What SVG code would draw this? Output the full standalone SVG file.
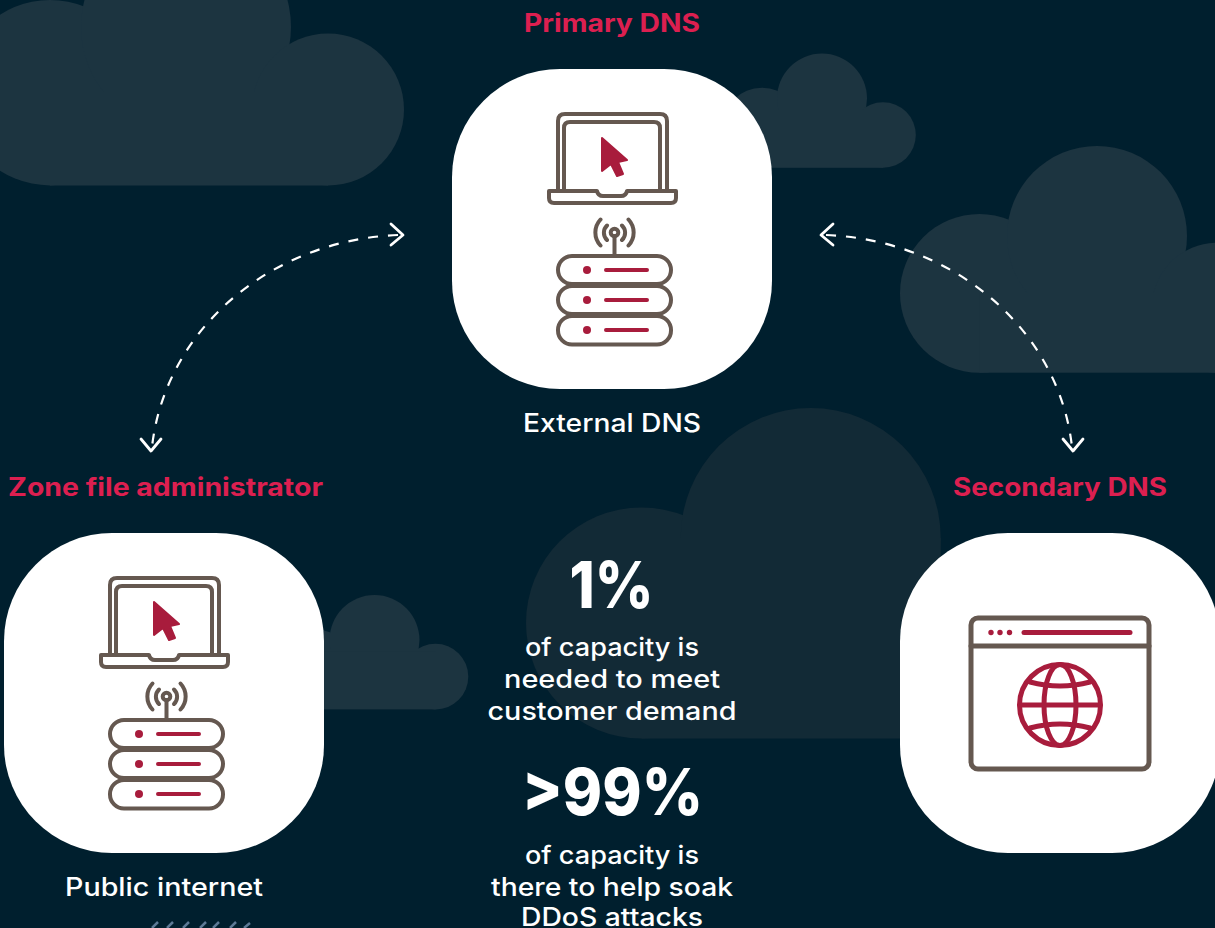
<svg xmlns="http://www.w3.org/2000/svg" width="1215" height="928" viewBox="0 0 1215 928">
<style>
.lbl{font-family:"Inter","Open Sans","Liberation Sans",sans-serif;font-size:25px;fill:#fff;text-anchor:middle;font-weight:500}
.ttl{font-family:"Inter","Open Sans","Liberation Sans",sans-serif;font-size:25px;fill:#dc1f50;text-anchor:middle;font-weight:700}
.big{font-family:"Inter","Open Sans","Liberation Sans",sans-serif;font-size:65px;fill:#fff;text-anchor:middle;font-weight:800}
.c1{fill:#1c3440}.c2{fill:#122a36}
.br{fill:none;stroke:#655850;stroke-width:4;stroke-linecap:round;stroke-linejoin:round}
.rd{fill:none;stroke:#a81c3c;stroke-width:4;stroke-linecap:round;stroke-linejoin:round}
.rdf{fill:#a81c3c}
.card{fill:#fff}
.dash{fill:none;stroke:#fff;stroke-width:2.2;stroke-dasharray:10 10}
.head{fill:none;stroke:#fff;stroke-width:2.8;stroke-linecap:round;stroke-linejoin:round}
</style>
<defs>
<g id="stack">
<path class="br" d="M558,191V121q0,-7 7,-7H660q7,0 7,7V191"/>
<path class="br" d="M564,191V128q0,-6 6,-6H654q6,0 6,6V191"/>
<path class="br" d="M549,191H597q1,5 6,5H621q5,0 6,-5H676V198q0,5 -5,5H554q-5,0 -5,-5Z"/>
<path class="rdf" stroke="#a81c3c" stroke-width="2" stroke-linejoin="round" d="M602,138L627,160L618,162L623,174L617,176L611,164L602,171Z"/>
<circle class="br" cx="614.5" cy="232.5" r="3.8"/>
<path class="br" d="M614.5,236V255M607,225.500a10,10 0 0 0 0,14.500M622,225.500a10,10 0 0 1 0,14.500M600.500,219.500a19,19 0 0 0 0,26M628.500,219.500a19,19 0 0 1 0,26"/>
<rect class="br" x="558" y="256" width="113" height="28" rx="14"/>
<rect class="br" x="558" y="286" width="113" height="28" rx="14"/>
<rect class="br" x="558" y="316" width="113" height="28.500" rx="14"/>
<circle class="rdf" cx="587" cy="270" r="4"/><circle class="rdf" cx="587" cy="300" r="4"/><circle class="rdf" cx="587" cy="330" r="4"/>
<path class="rd" d="M606,270H647M606,300H647M606,330H647"/>
</g>
<g id="smallcloud">
<circle cx="762" cy="127.700" r="40"/>
<circle cx="822" cy="98.500" r="45"/>
<circle cx="883" cy="135" r="32.800"/>
<rect x="762" y="110" width="121" height="57.800"/>
</g>
</defs>
<rect width="1215" height="928" fill="#001f2e"/>
<g id="clouds">
<g class="c1">
<circle cx="50" cy="92.700" r="92.700"/>
<circle cx="186" cy="27" r="105"/>
<circle cx="328" cy="109.500" r="76"/>
<rect x="50" y="92" width="278" height="93.500"/>
</g>
<use href="#smallcloud" class="c1"/>
<g class="c1">
<circle cx="979.400" cy="293.300" r="79.400"/>
<circle cx="1097" cy="236" r="90"/>
<circle cx="1217" cy="307.700" r="65"/>
<rect x="979.400" y="293" width="240" height="79.700"/>
</g>
<g class="c2">
<circle cx="641.500" cy="623" r="115.500"/>
<circle cx="810.700" cy="538" r="130"/>
<rect x="641.500" y="538" width="299.200" height="200.500"/>
</g>
<use href="#smallcloud" class="c1" x="-447.500" y="541.600"/>
<path d="M152,928l6,-6M167,928l6,-6M183,928l6,-6M200,928l6,-6M213,928l6,-6M230,928l6,-6M244,928l6,-5" stroke="#5d7a96" stroke-width="2.500" fill="none"/>
</g>
<g id="connectors">
<path class="dash" d="M398,235C270,240 165,330 152,447"/>
<path class="head" d="M391,224L403,235L391,245"/>
<path class="head" d="M141,439L151,451L161,439"/>
<path class="dash" d="M826,235C954,240 1059,330 1072,447"/>
<path class="head" d="M833,224L821,235L833,245"/>
<path class="head" d="M1063,439L1073,451L1083,439"/>
</g>
<g id="node-primary">
<rect class="card" x="452" y="69" width="320" height="320" rx="108"/>
<text class="ttl" x="612" y="32" textLength="176" lengthAdjust="spacingAndGlyphs">Primary DNS</text>
<use href="#stack"/>
<text class="lbl" x="612" y="432" textLength="178" lengthAdjust="spacingAndGlyphs">External DNS</text>
</g>
<g id="node-admin">
<rect class="card" x="4" y="533" width="320" height="320" rx="108"/>
<text class="ttl" x="165.500" y="496" textLength="315" lengthAdjust="spacingAndGlyphs">Zone file administrator</text>
<use href="#stack" x="-448" y="464"/>
<text class="lbl" x="164" y="896" textLength="198" lengthAdjust="spacingAndGlyphs">Public internet</text>
</g>
<g id="node-secondary">
<rect class="card" x="900" y="533" width="320" height="320" rx="108"/>
<text class="ttl" x="1060" y="496" textLength="214" lengthAdjust="spacingAndGlyphs">Secondary DNS</text>
<rect class="br" style="stroke-width:5" x="971" y="618" width="178" height="151" rx="7"/>
<path class="br" style="stroke-width:5" d="M971,646H1149"/>
<circle class="rdf" cx="991" cy="632.500" r="2.700"/><circle class="rdf" cx="1000" cy="632.500" r="2.700"/><circle class="rdf" cx="1009.500" cy="632.500" r="2.700"/>
<path class="rd" style="stroke-width:5" d="M1024,632.500H1130"/>
<g class="rd" style="stroke-width:5">
<circle cx="1060" cy="705" r="40.500"/>
<ellipse cx="1060" cy="705" rx="16" ry="40.500"/>
<path d="M1020,705H1100M1030,682Q1060,690 1090,682M1030,728Q1060,720 1090,728"/>
</g>
</g>
<g id="stats">
<text class="big" x="611.500" y="608" textLength="84" lengthAdjust="spacingAndGlyphs">1%</text>
<text class="lbl" x="612" y="656" textLength="174" lengthAdjust="spacingAndGlyphs">of capacity is</text>
<text class="lbl" x="612" y="688" textLength="216" lengthAdjust="spacingAndGlyphs">needed to meet</text>
<text class="lbl" x="612" y="720" textLength="249" lengthAdjust="spacingAndGlyphs">customer demand</text>
<text class="big" x="612.500" y="815" textLength="181" lengthAdjust="spacingAndGlyphs">&gt;99%</text>
<text class="lbl" x="612" y="864" textLength="174" lengthAdjust="spacingAndGlyphs">of capacity is</text>
<text class="lbl" x="612" y="896" textLength="242" lengthAdjust="spacingAndGlyphs">there to help soak</text>
<text class="lbl" x="612" y="926" textLength="182" lengthAdjust="spacingAndGlyphs">DDoS attacks</text>
</g>
</svg>
